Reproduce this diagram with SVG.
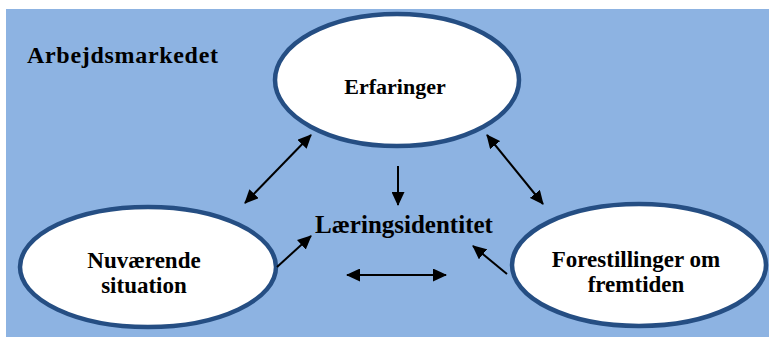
<svg xmlns="http://www.w3.org/2000/svg" width="769" height="340" viewBox="0 0 769 340">
<style>
.node ellipse{fill:#fff;stroke:#254e83;stroke-width:4.5}
.lbl{font-family:"Liberation Serif","Times New Roman",serif;font-weight:bold;font-size:23px;fill:#000;text-anchor:middle}
.conn line{stroke:#000;stroke-width:2}
</style>
<defs>
<marker id="ah" markerUnits="userSpaceOnUse" markerWidth="14" markerHeight="13" refX="13" refY="6.5" orient="auto-start-reverse">
<path d="M0,0 L14,6.5 L0,13 z" fill="#000"/>
</marker>
</defs>
<rect x="6" y="9" width="763" height="328" fill="#8db3e2"/>
<text x="27" y="63" style="font-family:'Liberation Serif','Times New Roman',serif;font-weight:bold;font-size:24px" textLength="191">Arbejdsmarkedet</text>
<g id="erfaringer" class="node">
<ellipse cx="397" cy="80" rx="122" ry="66"/>
<text class="lbl" x="395" y="94" style="font-size:22px">Erfaringer</text>
</g>
<g id="nuvaerende" class="node">
<ellipse cx="148" cy="267" rx="128" ry="60"/>
<text class="lbl" x="144" y="268">Nuværende</text>
<text class="lbl" x="144" y="293">situation</text>
</g>
<g id="forestillinger" class="node">
<ellipse cx="639" cy="265" rx="127" ry="61"/>
<text class="lbl" x="636" y="267">Forestillinger om</text>
<text class="lbl" x="636" y="292">fremtiden</text>
</g>
<g id="laeringsidentitet">
<text class="lbl" x="404" y="233" style="font-size:25px">Læringsidentitet</text>
</g>
<g class="conn">
<line x1="245" y1="203" x2="311" y2="135" marker-start="url(#ah)" marker-end="url(#ah)"/>
<line x1="487" y1="135" x2="543" y2="204" marker-start="url(#ah)" marker-end="url(#ah)"/>
<line x1="398" y1="166" x2="398" y2="205" marker-end="url(#ah)"/>
<line x1="277" y1="267" x2="311" y2="236" marker-end="url(#ah)"/>
<line x1="507" y1="274" x2="473" y2="246" marker-end="url(#ah)"/>
<line x1="347" y1="275" x2="446" y2="275" marker-start="url(#ah)" marker-end="url(#ah)"/>
</g>
</svg>
